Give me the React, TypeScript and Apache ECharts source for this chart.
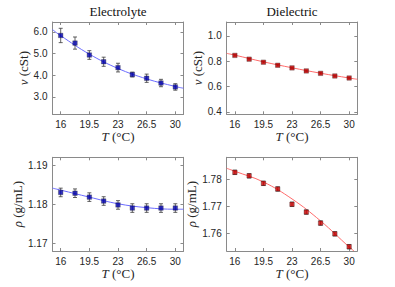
import React, { useEffect, useRef } from 'react';
import * as echarts from 'echarts';

const temps = [16, 17.75, 19.5, 21.25, 23, 24.75, 26.5, 28.25, 30];
const xTicks = [16, 19.5, 23, 26.5, 30];
const fitT = [15, 16, 19.5, 23, 26.5, 30, 31];

const elecNu = [5.83, 5.48, 4.93, 4.62, 4.35, 4.03, 3.86, 3.64, 3.46];
const elecNuErr = [0.33, 0.28, 0.2, 0.21, 0.2, 0.11, 0.19, 0.17, 0.15];
const elecNuFit = [6.1, 5.82, 4.97, 4.31, 3.83, 3.48, 3.4];

const dielNu = [0.846, 0.816, 0.792, 0.768, 0.747, 0.723, 0.704, 0.683, 0.667];
const dielNuErr = [0.006, 0.006, 0.006, 0.006, 0.006, 0.006, 0.006, 0.006, 0.006];
const dielNuFit = [0.862, 0.848, 0.795, 0.748, 0.705, 0.667, 0.657];

const elecRho = [1.183, 1.1828, 1.1818, 1.1808, 1.1798, 1.179, 1.179, 1.179, 1.179];
const elecRhoErr = [0.0011, 0.0011, 0.0011, 0.0011, 0.0011, 0.0011, 0.0011, 0.0011, 0.0011];
const elecRhoFit = [1.1841, 1.1836, 1.1818, 1.1801, 1.1791, 1.1787, 1.1787];

const dielRho = [1.7826, 1.7813, 1.7785, 1.7764, 1.7707, 1.7678, 1.7637, 1.7597, 1.7549];
const dielRhoErr = [0.0008, 0.0008, 0.0008, 0.0008, 0.0008, 0.0008, 0.0008, 0.0008, 0.0008];
const dielRhoFitT = [15, 16, 19.5, 23, 26.5, 30, 30.6];
const dielRhoFit = [1.7841, 1.783, 1.779, 1.7727, 1.7645, 1.7548, 1.7533];

const titles = ['Electrolyte', 'Dielectric'];
const yTicksList = [
  [3, 4, 5, 6],
  [0.4, 0.6, 0.8, 1.0],
  [1.17, 1.18, 1.19],
  [1.76, 1.77, 1.78],
];
const yRanges = [
  [2.2, 6.45],
  [0.38, 1.11],
  [1.168, 1.192],
  [1.7533, 1.7882],
];
const yDecimals = [1, 1, 2, 2];
const yNames = ['{i|ν} (cSt)', '{i|ν} (cSt)', '{i|ρ} (g/mL)', '{i|ρ} (g/mL)'];

const grids = [
  { left: 52.5, top: 22, width: 131, height: 92.3 },
  { left: 226.7, top: 22, width: 130.6, height: 92.3 },
  { left: 52.5, top: 157.3, width: 131, height: 93.7 },
  { left: 226.7, top: 157.3, width: 130.6, height: 93.7 },
];

const BLUE = '#0000b0';
const BLUE_LINE = '#6b6bff';
const RED = '#cc0000';
const RED_LINE = '#ff6b6b';
const AXIS = '#8a8a8a';
const TEXT = '#262626';
const SERIF = '"Liberation Serif", "Times New Roman", serif';
const SANS = '"Liberation Sans", Arial, sans-serif';

const errRender = (params: any, api: any) => {
  const x = api.value(0);
  const lo = api.value(1);
  const hi = api.value(2);
  const pLo = api.coord([x, lo]);
  const pHi = api.coord([x, hi]);
  const cap = 2;
  const style = { stroke: '#3a3a3a', lineWidth: 0.8 };
  return {
    type: 'group',
    children: [
      { type: 'line', shape: { x1: pLo[0], y1: pLo[1], x2: pHi[0], y2: pHi[1] }, style },
      { type: 'line', shape: { x1: pLo[0] - cap, y1: pLo[1], x2: pLo[0] + cap, y2: pLo[1] }, style },
      { type: 'line', shape: { x1: pHi[0] - cap, y1: pHi[1], x2: pHi[0] + cap, y2: pHi[1] }, style },
    ],
  };
};

export default function App() {
  const ref = useRef<HTMLDivElement>(null);
  useEffect(() => {
    if (!ref.current) return;
    const chart = echarts.init(ref.current, undefined, { renderer: 'svg' });

    const panels = [
      { vals: elecNu, err: elecNuErr, fitX: fitT, fit: elecNuFit, c: BLUE, lc: BLUE_LINE },
      { vals: dielNu, err: dielNuErr, fitX: fitT, fit: dielNuFit, c: RED, lc: RED_LINE },
      { vals: elecRho, err: elecRhoErr, fitX: fitT, fit: elecRhoFit, c: BLUE, lc: BLUE_LINE },
      { vals: dielRho, err: dielRhoErr, fitX: dielRhoFitT, fit: dielRhoFit, c: RED, lc: RED_LINE },
    ];

    const xAxis: any[] = [];
    const yAxis: any[] = [];
    const series: any[] = [];

    panels.forEach((p, i) => {
      const baseLine = { show: true, lineStyle: { color: AXIS, width: 1 } };
      const tick = { show: true, inside: true, length: 3, customValues: xTicks, lineStyle: { color: AXIS } };
      xAxis.push({
        type: 'value',
        gridIndex: i,
        min: 15,
        max: 31,
        position: 'bottom',
        axisLine: { ...baseLine, onZero: false },
        axisTick: tick,
        splitLine: { show: false },
        axisLabel: {
          customValues: xTicks,
          color: TEXT,
          fontFamily: SANS,
          fontSize: 10,
          margin: 5,
          formatter: (v: number) => String(v),
        },
        name: '{i|T} (°C)',
        nameLocation: 'middle',
        nameGap: 11,
        nameTextStyle: {
          fontFamily: SERIF,
          fontSize: 13,
          color: TEXT,
          rich: { i: { fontStyle: 'italic', fontFamily: SERIF, fontSize: 13, color: TEXT } },
        },
      });
      xAxis.push({
        type: 'value',
        gridIndex: i,
        min: 15,
        max: 31,
        position: 'top',
        axisLine: { ...baseLine, onZero: false },
        axisTick: tick,
        splitLine: { show: false },
        axisLabel: { show: false },
      });
      const yt = yTicksList[i];
      const ytick = { show: true, inside: true, length: 3, customValues: yt, lineStyle: { color: AXIS } };
      yAxis.push({
        type: 'value',
        gridIndex: i,
        min: yRanges[i][0],
        max: yRanges[i][1],
        position: 'left',
        axisLine: { ...baseLine, onZero: false },
        axisTick: ytick,
        splitLine: { show: false },
        axisLabel: {
          customValues: yt,
          color: TEXT,
          fontFamily: SANS,
          fontSize: 10,
          margin: 5,
          formatter: (v: number) => v.toFixed(yDecimals[i]),
        },
        name: yNames[i],
        nameLocation: 'middle',
        nameGap: 20,
        nameRotate: 90,
        nameTextStyle: {
          fontFamily: SERIF,
          fontSize: 13,
          color: TEXT,
          rich: { i: { fontStyle: 'italic', fontFamily: SERIF, fontSize: 13, color: TEXT } },
        },
      });
      yAxis.push({
        type: 'value',
        gridIndex: i,
        min: yRanges[i][0],
        max: yRanges[i][1],
        position: 'right',
        axisLine: { ...baseLine, onZero: false },
        axisTick: ytick,
        splitLine: { show: false },
        axisLabel: { show: false },
      });

      series.push({
        type: 'line',
        xAxisIndex: 2 * i,
        yAxisIndex: 2 * i,
        data: p.fitX.map((x, k) => [x, p.fit[k]]),
        smooth: 0.4,
        showSymbol: false,
        symbol: 'none',
        lineStyle: { color: p.lc, width: 1 },
        clip: true,
        z: 2,
      });
      series.push({
        type: 'custom',
        xAxisIndex: 2 * i,
        yAxisIndex: 2 * i,
        data: temps.map((t, k) => [t, p.vals[k] - p.err[k], p.vals[k] + p.err[k]]),
        encode: { x: 0, y: [1, 2] },
        renderItem: errRender,
        z: 3,
      });
      series.push({
        type: 'scatter',
        xAxisIndex: 2 * i,
        yAxisIndex: 2 * i,
        data: temps.map((t, k) => [t, p.vals[k]]),
        symbol: 'rect',
        symbolSize: 4.5,
        itemStyle: { color: p.c, borderColor: '#222', borderWidth: 0.4 },
        z: 4,
      });
    });

    chart.setOption({
      animation: false,
      grid: grids,
      xAxis,
      yAxis,
      series,
      graphic: [
        {
          type: 'text',
          x: 118,
          y: 11,
          style: { text: titles[0], textAlign: 'center', textVerticalAlign: 'middle', font: `13px ${SERIF}`, fill: '#111' },
        },
        {
          type: 'text',
          x: 292,
          y: 11,
          style: { text: titles[1], textAlign: 'center', textVerticalAlign: 'middle', font: `13px ${SERIF}`, fill: '#111' },
        },
      ],
    });
    return () => chart.dispose();
  }, []);
  return <div ref={ref} style={{ width: 395, height: 287, position: 'absolute', left: 0, top: 0, background: '#fff' }} />;
}
